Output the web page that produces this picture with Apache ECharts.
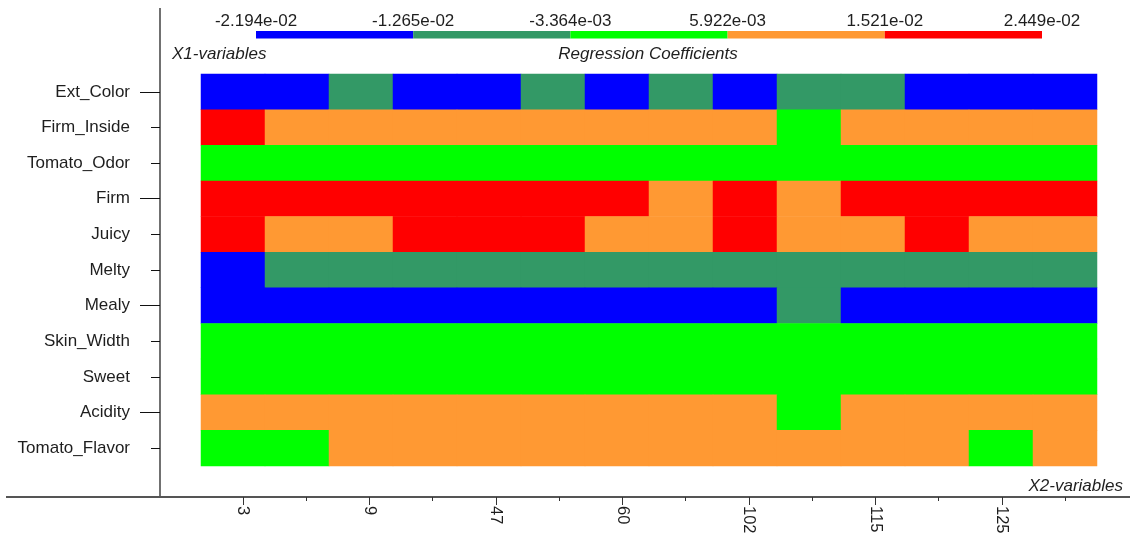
<!DOCTYPE html>
<html>
<head>
<meta charset="utf-8">
<script src="https://cdn.jsdelivr.net/npm/echarts@6/dist/echarts.min.js"></script>
<style>
html,body{margin:0;padding:0;background:#fff;}
#c{width:1130px;height:539px;}
</style>
</head>
<body>
<div id="c"></div>
<script>
// ---- data ----
const yCategories = ['Ext_Color','Firm_Inside','Tomato_Odor','Firm','Juicy','Melty','Mealy','Skin_Width','Sweet','Acidity','Tomato_Flavor'];
const xTickLabels = ['3','','9','','47','','60','','102','','115','','125',''];
const legendLabels = ['-2.194e-02','-1.265e-02','-3.364e-03','5.922e-03','1.521e-02','2.449e-02'];
const legendBounds = [-0.02194,-0.01265,-0.003364,0.005922,0.01521,0.02449];
const legendColors = ['#0000ff','#339966','#00ff00','#ff9933','#ff0000'];

const extColor     = [-0.0175,-0.0175,-0.0080,-0.0175,-0.0175,-0.0080,-0.0175,-0.0080,-0.0175,-0.0080,-0.0080,-0.0175,-0.0175,-0.0175];
const firmInside   = [0.0200,0.0105,0.0105,0.0105,0.0105,0.0105,0.0105,0.0105,0.0105,0.0012,0.0105,0.0105,0.0105,0.0105];
const tomatoOdor   = [0.0012,0.0012,0.0012,0.0012,0.0012,0.0012,0.0012,0.0012,0.0012,0.0012,0.0012,0.0012,0.0012,0.0012];
const firm         = [0.0200,0.0200,0.0200,0.0200,0.0200,0.0200,0.0200,0.0105,0.0200,0.0105,0.0200,0.0200,0.0200,0.0200];
const juicy        = [0.0200,0.0105,0.0105,0.0200,0.0200,0.0200,0.0105,0.0105,0.0200,0.0105,0.0105,0.0200,0.0105,0.0105];
const melty        = [-0.0175,-0.0080,-0.0080,-0.0080,-0.0080,-0.0080,-0.0080,-0.0080,-0.0080,-0.0080,-0.0080,-0.0080,-0.0080,-0.0080];
const mealy        = [-0.0175,-0.0175,-0.0175,-0.0175,-0.0175,-0.0175,-0.0175,-0.0175,-0.0175,-0.0080,-0.0175,-0.0175,-0.0175,-0.0175];
const skinWidth    = [0.0012,0.0012,0.0012,0.0012,0.0012,0.0012,0.0012,0.0012,0.0012,0.0012,0.0012,0.0012,0.0012,0.0012];
const sweet        = [0.0012,0.0012,0.0012,0.0012,0.0012,0.0012,0.0012,0.0012,0.0012,0.0012,0.0012,0.0012,0.0012,0.0012];
const acidity      = [0.0105,0.0105,0.0105,0.0105,0.0105,0.0105,0.0105,0.0105,0.0105,0.0012,0.0105,0.0105,0.0105,0.0105];
const tomatoFlavor = [0.0012,0.0012,0.0105,0.0105,0.0105,0.0105,0.0105,0.0105,0.0105,0.0105,0.0105,0.0105,0.0012,0.0105];

const rows = [extColor, firmInside, tomatoOdor, firm, juicy, melty, mealy, skinWidth, sweet, acidity, tomatoFlavor];

// ---- build ----
const FONT = '"Liberation Sans", Arial, sans-serif';
const TXT = '#1e1e1e';
const heatData = [];
rows.forEach((row, y) => row.forEach((v, x) => heatData.push([x, y, v])));
const xIdx = xTickLabels.map((_, i) => String(i));

const pieces = legendColors.map((c, i) => ({
  gte: legendBounds[i], lt: legendBounds[i + 1], color: c
}));

const legendSeries = legendColors.map((c, i) => ({
  type: 'bar', xAxisIndex: 3, yAxisIndex: 3, stack: 'scale',
  data: [1], barWidth: '100%', itemStyle: { color: c }, silent: true
}));

const chart = echarts.init(document.getElementById('c'), null, { renderer: 'canvas' });
chart.setOption({
  animation: false,
  backgroundColor: '#ffffff',
  grid: [
    { left: 201, right: 33, top: 74, bottom: 73 },
    { left: 211.4, right: 33.4, top: 74, bottom: 42 },
    { left: 256, right: 88, top: 31, height: 7.5 }
  ],
  xAxis: [
    { type: 'category', gridIndex: 0, data: xIdx, show: false },
    { type: 'category', gridIndex: 1, data: xIdx, position: 'bottom',
      axisLine: { show: false },
      axisTick: { show: true, alignWithLabel: true, interval: 0, length: 4, lineStyle: { color: '#333' } },
      axisLabel: { interval: 1, rotate: -90, margin: 9, fontSize: 16.5, color: TXT, fontFamily: FONT,
        formatter: (v, i) => xTickLabels[i] } },
    { type: 'category', gridIndex: 1, data: xIdx, position: 'bottom',
      axisLine: { show: false },
      axisTick: { show: true, alignWithLabel: true, interval: 1, length: 8, lineStyle: { color: '#333' } },
      axisLabel: { show: false } },
    { type: 'value', gridIndex: 2, min: 0, max: 5, interval: 1, position: 'top',
      axisLine: { show: false }, axisTick: { show: false }, splitLine: { show: false },
      axisLabel: { margin: 1, fontSize: 17, color: TXT, fontFamily: FONT,
        formatter: v => legendLabels[Math.round(v)] } }
  ],
  yAxis: [
    { type: 'category', gridIndex: 0, data: yCategories, inverse: true, position: 'left', offset: 41,
      axisLine: { show: false },
      axisTick: { show: true, alignWithLabel: true, interval: 0, length: 9, lineStyle: { color: '#111' } },
      axisLabel: { margin: 30, fontSize: 17, color: TXT, fontFamily: FONT } },
    { type: 'category', gridIndex: 0, data: yCategories, inverse: true, position: 'left', offset: 41,
      axisLine: { show: false },
      axisTick: { show: true, alignWithLabel: true, interval: 2, length: 20, lineStyle: { color: '#111' } },
      axisLabel: { show: false } },
    { type: 'value', gridIndex: 1, show: false },
    { type: 'category', gridIndex: 2, data: ['scale'], show: false }
  ],
  visualMap: {
    type: 'piecewise', show: false, seriesIndex: 0, dimension: 2, pieces: pieces
  },
  series: [
    { type: 'heatmap', xAxisIndex: 0, yAxisIndex: 0, data: heatData,
      itemStyle: { borderWidth: 0 }, emphasis: { disabled: true }, silent: true }
  ].concat(legendSeries),
  graphic: [
    { type: 'line', shape: { x1: 160, y1: 8, x2: 160, y2: 497 }, style: { stroke: '#111', lineWidth: 1.2 }, silent: true },
    { type: 'line', shape: { x1: 6, y1: 497, x2: 1130, y2: 497 }, style: { stroke: '#555', lineWidth: 1.8 }, silent: true },
    { type: 'text', x: 172, y: 54, style: { text: 'X1-variables', fontSize: 17, fontStyle: 'italic', fontFamily: FONT, fill: TXT, align: 'left', verticalAlign: 'middle' }, silent: true },
    { type: 'text', x: 648, y: 54, style: { text: 'Regression Coefficients', fontSize: 17, fontStyle: 'italic', fontFamily: FONT, fill: TXT, align: 'center', verticalAlign: 'middle' }, silent: true },
    { type: 'text', x: 1123, y: 486, style: { text: 'X2-variables', fontSize: 17, fontStyle: 'italic', fontFamily: FONT, fill: TXT, align: 'right', verticalAlign: 'middle' }, silent: true }
  ]
});
</script>
</body>
</html>
